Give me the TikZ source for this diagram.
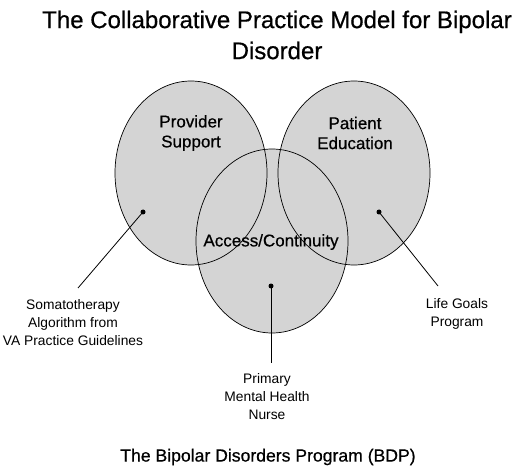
\documentclass[tikz,border=0pt]{standalone}
\usepackage{fontspec}
\setmainfont{Liberation Sans}
\newfontfamily\heavyfont[FakeBold=0.6]{Liberation Sans}
\begin{document}
\begin{tikzpicture}[x=1pt,y=-1pt,
  circ/.style={fill=black!17,draw=none},
  outline/.style={draw=black,line width=0.7pt},
  dot/.style={circle,fill=black,inner sep=0pt,minimum size=5pt},
  inlabel/.style={align=center,font=\heavyfont\fontsize{17}{20}\selectfont},
  outlabel/.style={align=center,font=\fontsize{13.8}{18}\selectfont},
  conn/.style={draw=black,line width=0.8pt}]
\useasboundingbox (0,0) rectangle (530,473);
\fill[white] (0,0) rectangle (530,473);
% title
\node[align=center,font=\heavyfont\fontsize{24}{31}\selectfont] (title) at (277,35)
  {The Collaborative Practice Model for Bipolar\\Disorder};
% ellipses fill
\fill[circ] (191,173) ellipse [x radius=76, y radius=92];
\fill[circ] (354,173) ellipse [x radius=76, y radius=92];
\fill[circ] (272,241) ellipse [x radius=76, y radius=92];
\draw[outline] (191,173) ellipse [x radius=76, y radius=92];
\draw[outline] (354,173) ellipse [x radius=76, y radius=92];
\draw[outline] (272,241) ellipse [x radius=76, y radius=92];
% inner labels
\node[inlabel] (prov) at (191,133) {Provider\\Support};
\node[inlabel] (pat) at (355,133) {Patient\\Education};
\node[inlabel] (acc) at (271,242) {Access/Continuity};
% dots
\node[dot] (d1) at (143,212) {};
\node[dot] (d2) at (379,212) {};
\node[dot] (d3) at (271,286) {};
% line ends
\coordinate (e1) at (78,288);
\coordinate (e2) at (438,286);
\coordinate (e3) at (271,363);
\draw[conn] (d1.center) -- (e1);
\draw[conn] (d2.center) -- (e2);
\draw[conn] (d3.center) -- (e3);
% outer labels
\node[outlabel] (soma) at (73,323) {Somatotherapy\\Algorithm from\\VA Practice Guidelines};
\node[outlabel] (life) at (457,314) {Life Goals\\Program};
\node[outlabel] (nurse) at (267,397) {Primary\\Mental Health\\Nurse};
% bottom title
\node[font=\heavyfont\fontsize{17.6}{20}\selectfont] (bdp) at (268,457) {The Bipolar Disorders Program (BDP)};
\end{tikzpicture}
\end{document}
